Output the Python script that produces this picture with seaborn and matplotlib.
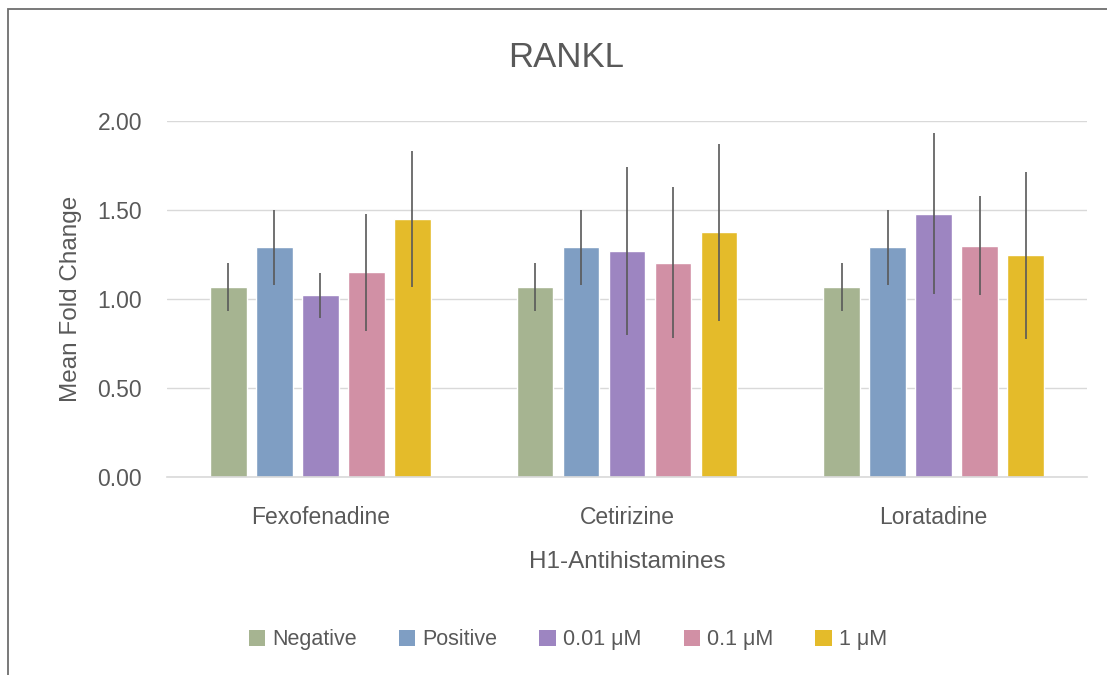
import pandas as pd
import seaborn as sns
import matplotlib.pyplot as plt
from matplotlib.patches import Rectangle

# data
drugs = ['Fexofenadine', 'Cetirizine', 'Loratadine']
groups = ['Negative', 'Positive', '0.01 μM', '0.1 μM', '1 μM']
neg_mean = [1.066, 1.066, 1.066]
pos_mean = [1.29, 1.29, 1.29]
low_mean = [1.02, 1.27, 1.48]
mid_mean = [1.15, 1.205, 1.30]
high_mean = [1.45, 1.375, 1.245]
neg_err = [0.135, 0.135, 0.135]
pos_err = [0.21, 0.21, 0.21]
low_err = [0.128, 0.47, 0.453]
mid_err = [0.33, 0.425, 0.28]
high_err = [0.38, 0.497, 0.47]

colors = ['#A6B491', '#7F9EC3', '#9D85C1', '#D190A5', '#E4BB2A']
txt = '#595959'

means = [neg_mean, pos_mean, low_mean, mid_mean, high_mean]
errs = [neg_err, pos_err, low_err, mid_err, high_err]
rows = []
for g, m, e in zip(groups, means, errs):
    for d, v, s in zip(drugs, m, e):
        rows.append({'drug': d, 'group': g, 'mean': v, 'err': s})
df = pd.DataFrame(rows)

sns.set_style('white')
plt.rcParams['font.family'] = ['Liberation Sans', 'DejaVu Sans']

fig = plt.figure(figsize=(11.07, 6.75), dpi=100)
ax = fig.add_axes([0.1509, 0.2933, 0.8311, 0.5274])

sns.barplot(data=df, x='drug', y='mean', hue='group', order=drugs, hue_order=groups,
            palette=colors, width=0.75, gap=0.2, errorbar=None, saturation=1,
            legend=False, ax=ax)

# error bars at the bar centres
for cont, g in zip(ax.containers, groups):
    sub = df[df['group'] == g]
    for bar, (_, r) in zip(cont, sub.iterrows()):
        xc = bar.get_x() + bar.get_width() / 2
        ax.errorbar(xc, r['mean'], yerr=r['err'], fmt='none', ecolor=txt,
                    elinewidth=1.2, capsize=0, zorder=5)

ax.set_ylim(0, 2.0)
ax.set_xlim(-0.5, 2.5)
ax.set_yticks([0, 0.5, 1.0, 1.5, 2.0])
ax.set_yticklabels(['0.00', '0.50', '1.00', '1.50', '2.00'])
ax.yaxis.grid(True, color='#D9D9D9', linewidth=1.0)
ax.set_axisbelow(True)
for s in ['top', 'right', 'left']:
    ax.spines[s].set_visible(False)
ax.spines['bottom'].set_color('#D9D9D9')
ax.spines['bottom'].set_linewidth(1.2)
ax.tick_params(axis='y', length=0, pad=18, labelsize=16.5, labelcolor=txt)
ax.tick_params(axis='x', length=0, pad=21, labelsize=16.5, labelcolor=txt)
ax.set_xlabel('H1-Antihistamines', fontsize=17.5, color=txt, labelpad=16)
ax.set_ylabel('Mean Fold Change', fontsize=17.5, color=txt, labelpad=11)
fig.text(0.511, 0.915, 'RANKL', fontsize=25, color=txt, ha='center', va='center')

handles = [Rectangle((0, 0), 1, 1, facecolor=c, edgecolor='none') for c in colors]
fig.legend(handles, groups, loc='center', bbox_to_anchor=(0.513, 0.052), ncol=5,
           frameon=False, fontsize=15.5, labelcolor=txt, handlelength=0.75,
           handleheight=0.75, handletextpad=0.35, columnspacing=1.95)

# chart border (cut off at right and bottom)
fig.patches.append(Rectangle((8 / 1107, -0.05), 1.2, 0.9867 + 0.05, transform=fig.transFigure,
                             fill=False, edgecolor='#6E6E6E', linewidth=1.3, clip_on=False))

fig.savefig('out.png', dpi=100)
